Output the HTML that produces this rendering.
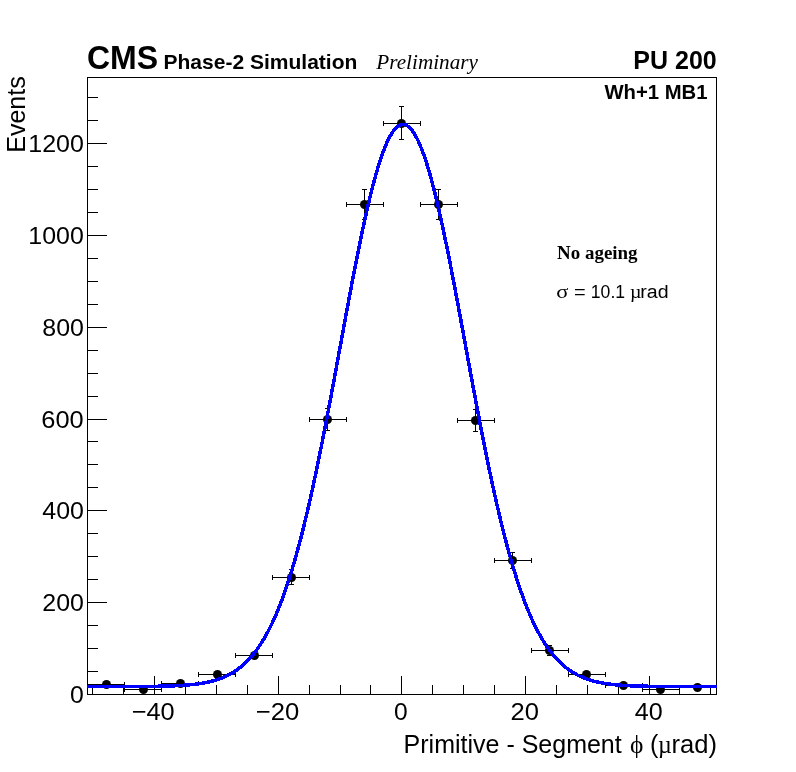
<!DOCTYPE html>
<html><head><meta charset="utf-8"><style>
html,body{margin:0;padding:0;background:#fff;}
body{width:796px;height:772px;position:relative;overflow:hidden;font-family:"Liberation Sans",sans-serif;}
svg{position:absolute;left:0;top:0;}
.t{position:absolute;white-space:nowrap;line-height:1;color:#000;}
</style></head><body>
<svg width="796" height="772" viewBox="0 0 796 772">
<rect x="87.5" y="77.5" width="629" height="617" fill="none" stroke="#000" stroke-width="1"/>
<path d="M87 694.5h20 M87 671.5h11 M87 648.5h11 M87 625.5h11 M87 602.5h20 M87 579.5h11 M87 556.5h11 M87 533.5h11 M87 510.5h20 M87 487.5h11 M87 464.5h11 M87 441.5h11 M87 419.5h20 M87 396.5h11 M87 373.5h11 M87 350.5h11 M87 327.5h20 M87 304.5h11 M87 281.5h11 M87 258.5h11 M87 235.5h20 M87 212.5h11 M87 189.5h11 M87 166.5h11 M87 143.5h20 M87 120.5h11 M87 97.5h11 M92.5 694v-9 M123.5 694v-9 M154.5 694v-18 M185.5 694v-9 M216.5 694v-9 M247.5 694v-9 M278.5 694v-18 M309.5 694v-9 M340.5 694v-9 M370.5 694v-9 M401.5 694v-18 M432.5 694v-9 M463.5 694v-9 M494.5 694v-9 M525.5 694v-18 M556.5 694v-9 M587.5 694v-9 M618.5 694v-9 M649.5 694v-18 M679.5 694v-9 M710.5 694v-9" stroke="#000" stroke-width="1" fill="none" shape-rendering="crispEdges"/>
<path d="M87 684.5H125 M87.5 682V687 M124.5 682V687 M124 689.5H162 M124.5 687V692 M161.5 687V692 M161 683.5H199 M161.5 681V686 M198.5 681V686 M198 674.5H236 M198.5 672V677 M235.5 672V677 M235 655.5H273 M235.5 653V658 M272.5 653V658 M272 577.5H310 M272.5 575V580 M309.5 575V580 M291.5 569V573.5 M291.5 581.5V585 M289.0 569.5h5 M289.0 584.5h5 M309 419.5H347 M309.5 417V422 M346.5 417V422 M327.5 408V415.5 M327.5 423.5V431 M325.0 408.5h5 M325.0 430.5h5 M346 204.5H384 M346.5 202V207 M383.5 202V207 M364.5 189V200.5 M364.5 208.5V220 M362.0 189.5h5 M362.0 219.5h5 M383 123.5H421 M383.5 121V126 M420.5 121V126 M401.5 106V119.5 M401.5 127.5V140 M399.0 106.5h5 M399.0 139.5h5 M420 204.5H458 M420.5 202V207 M457.5 202V207 M438.5 189V200.5 M438.5 208.5V220 M436.0 189.5h5 M436.0 219.5h5 M457 420.5H495 M457.5 418V423 M494.5 418V423 M475.5 409V416.5 M475.5 424.5V432 M473.0 409.5h5 M473.0 431.5h5 M494 560.5H532 M494.5 558V563 M531.5 558V563 M512.5 552V556.5 M512.5 564.5V569 M510.0 552.5h5 M510.0 568.5h5 M531 650.5H569 M531.5 648V653 M568.5 648V653 M549.5 645V646.5 M549.5 654.5V656 M547.0 645.5h5 M547.0 655.5h5 M568 674.5H606 M568.5 672V677 M605.5 672V677 M605 685.5H643 M605.5 683V688 M642.5 683V688 M642 689.5H680 M642.5 687V692 M679.5 687V692 M679 687.5H717 M679.5 685V690 M716.5 685V690" stroke="#000" stroke-width="1" fill="none" shape-rendering="crispEdges"/>
<circle cx="106.5" cy="684.5" r="4.5" fill="#000"/>
<circle cx="143.5" cy="689.5" r="4.5" fill="#000"/>
<circle cx="180.5" cy="683.5" r="4.5" fill="#000"/>
<circle cx="217.5" cy="674.5" r="4.5" fill="#000"/>
<circle cx="254.5" cy="655.5" r="4.5" fill="#000"/>
<circle cx="291.5" cy="577.5" r="4.5" fill="#000"/>
<circle cx="327.5" cy="419.5" r="4.5" fill="#000"/>
<circle cx="364.5" cy="204.5" r="4.5" fill="#000"/>
<circle cx="401.5" cy="123.5" r="4.5" fill="#000"/>
<circle cx="438.5" cy="204.5" r="4.5" fill="#000"/>
<circle cx="475.5" cy="420.5" r="4.5" fill="#000"/>
<circle cx="512.5" cy="560.5" r="4.5" fill="#000"/>
<circle cx="549.5" cy="650.5" r="4.5" fill="#000"/>
<circle cx="586.5" cy="674.5" r="4.5" fill="#000"/>
<circle cx="623.5" cy="685.5" r="4.5" fill="#000"/>
<circle cx="660.5" cy="689.5" r="4.5" fill="#000"/>
<circle cx="697.5" cy="687.5" r="4.5" fill="#000"/>
<polyline points="87.00,686.51 88.05,686.51 89.10,686.51 90.14,686.51 91.19,686.51 92.24,686.51 93.29,686.51 94.34,686.51 95.39,686.51 96.44,686.51 97.48,686.51 98.53,686.51 99.58,686.51 100.63,686.51 101.68,686.51 102.72,686.51 103.77,686.51 104.82,686.51 105.87,686.51 106.92,686.51 107.97,686.51 109.02,686.51 110.06,686.51 111.11,686.50 112.16,686.50 113.21,686.50 114.26,686.50 115.31,686.50 116.35,686.50 117.40,686.50 118.45,686.50 119.50,686.50 120.55,686.49 121.59,686.49 122.64,686.49 123.69,686.49 124.74,686.49 125.79,686.48 126.84,686.48 127.89,686.48 128.93,686.48 129.98,686.47 131.03,686.47 132.08,686.47 133.13,686.46 134.18,686.46 135.22,686.46 136.27,686.45 137.32,686.45 138.37,686.44 139.42,686.44 140.47,686.43 141.51,686.42 142.56,686.42 143.61,686.41 144.66,686.40 145.71,686.39 146.75,686.39 147.80,686.38 148.85,686.37 149.90,686.36 150.95,686.35 152.00,686.33 153.05,686.32 154.09,686.31 155.14,686.29 156.19,686.28 157.24,686.26 158.29,686.25 159.34,686.23 160.38,686.21 161.43,686.19 162.48,686.17 163.53,686.14 164.58,686.12 165.62,686.09 166.67,686.06 167.72,686.03 168.77,686.00 169.82,685.97 170.87,685.93 171.91,685.90 172.96,685.86 174.01,685.82 175.06,685.77 176.11,685.73 177.16,685.68 178.20,685.62 179.25,685.57 180.30,685.51 181.35,685.45 182.40,685.38 183.45,685.32 184.50,685.24 185.54,685.17 186.59,685.09 187.64,685.00 188.69,684.91 189.74,684.82 190.78,684.72 191.83,684.61 192.88,684.50 193.93,684.39 194.98,684.26 196.03,684.14 197.08,684.00 198.12,683.86 199.17,683.71 200.22,683.55 201.27,683.39 202.32,683.21 203.37,683.03 204.41,682.84 205.46,682.64 206.51,682.43 207.56,682.21 208.61,681.98 209.66,681.74 210.70,681.49 211.75,681.22 212.80,680.95 213.85,680.66 214.90,680.35 215.94,680.04 216.99,679.71 218.04,679.36 219.09,679.00 220.14,678.62 221.19,678.23 222.23,677.81 223.28,677.38 224.33,676.93 225.38,676.47 226.43,675.98 227.48,675.47 228.53,674.94 229.57,674.39 230.62,673.82 231.67,673.22 232.72,672.60 233.77,671.95 234.81,671.28 235.86,670.58 236.91,669.85 237.96,669.10 239.01,668.32 240.06,667.50 241.10,666.66 242.15,665.78 243.20,664.87 244.25,663.93 245.30,662.96 246.35,661.94 247.40,660.90 248.44,659.81 249.49,658.69 250.54,657.52 251.59,656.32 252.64,655.08 253.69,653.79 254.73,652.46 255.78,651.09 256.83,649.67 257.88,648.21 258.93,646.70 259.98,645.14 261.02,643.53 262.07,641.88 263.12,640.17 264.17,638.41 265.22,636.59 266.26,634.73 267.31,632.81 268.36,630.83 269.41,628.79 270.46,626.70 271.51,624.55 272.56,622.34 273.60,620.07 274.65,617.74 275.70,615.35 276.75,612.90 277.80,610.38 278.85,607.80 279.89,605.15 280.94,602.44 281.99,599.66 283.04,596.82 284.09,593.90 285.13,590.92 286.18,587.88 287.23,584.76 288.28,581.58 289.33,578.32 290.38,575.00 291.42,571.60 292.47,568.14 293.52,564.60 294.57,561.00 295.62,557.32 296.67,553.58 297.72,549.76 298.76,545.88 299.81,541.92 300.86,537.89 301.91,533.80 302.96,529.64 304.00,525.40 305.05,521.11 306.10,516.74 307.15,512.31 308.20,507.81 309.25,503.24 310.29,498.62 311.34,493.93 312.39,489.18 313.44,484.36 314.49,479.49 315.54,474.56 316.58,469.58 317.63,464.54 318.68,459.44 319.73,454.30 320.78,449.10 321.83,443.86 322.88,438.57 323.92,433.23 324.97,427.86 326.02,422.44 327.07,416.98 328.12,411.49 329.17,405.97 330.21,400.42 331.26,394.84 332.31,389.23 333.36,383.60 334.41,377.95 335.46,372.28 336.50,366.60 337.55,360.90 338.60,355.20 339.65,349.50 340.70,343.79 341.75,338.08 342.79,332.37 343.84,326.68 344.89,320.99 345.94,315.32 346.99,309.67 348.04,304.04 349.08,298.43 350.13,292.85 351.18,287.30 352.23,281.79 353.28,276.32 354.32,270.89 355.37,265.50 356.42,260.17 357.47,254.89 358.52,249.66 359.57,244.50 360.62,239.40 361.66,234.37 362.71,229.41 363.76,224.53 364.81,219.73 365.86,215.00 366.91,210.37 367.95,205.82 369.00,201.37 370.05,197.01 371.10,192.75 372.15,188.59 373.19,184.54 374.24,180.60 375.29,176.77 376.34,173.06 377.39,169.46 378.44,165.98 379.49,162.63 380.53,159.41 381.58,156.31 382.63,153.34 383.68,150.51 384.73,147.82 385.78,145.26 386.82,142.84 387.87,140.57 388.92,138.44 389.97,136.45 391.02,134.62 392.06,132.93 393.11,131.39 394.16,130.01 395.21,128.78 396.26,127.70 397.31,126.77 398.36,126.01 399.40,125.40 400.45,124.94 401.50,124.65 402.55,124.51 403.60,124.53 404.64,124.70 405.69,125.04 406.74,125.53 407.79,126.17 408.84,126.98 409.89,127.94 410.94,129.05 411.98,130.32 413.03,131.74 414.08,133.31 415.13,135.04 416.18,136.91 417.22,138.93 418.27,141.09 419.32,143.40 420.37,145.85 421.42,148.44 422.47,151.17 423.51,154.03 424.56,157.03 425.61,160.15 426.66,163.41 427.71,166.79 428.76,170.29 429.81,173.92 430.85,177.66 431.90,181.52 432.95,185.48 434.00,189.56 435.05,193.74 436.10,198.02 437.14,202.41 438.19,206.88 439.24,211.45 440.29,216.11 441.34,220.85 442.39,225.67 443.43,230.57 444.48,235.55 445.53,240.60 446.58,245.71 447.63,250.89 448.68,256.13 449.72,261.42 450.77,266.77 451.82,272.16 452.87,277.60 453.92,283.08 454.96,288.60 456.01,294.16 457.06,299.75 458.11,305.36 459.16,311.00 460.21,316.65 461.25,322.33 462.30,328.02 463.35,333.72 464.40,339.42 465.45,345.13 466.50,350.84 467.55,356.54 468.59,362.24 469.64,367.94 470.69,373.61 471.74,379.28 472.79,384.92 473.83,390.55 474.88,396.15 475.93,401.73 476.98,407.27 478.03,412.79 479.08,418.27 480.12,423.72 481.17,429.12 482.22,434.49 483.27,439.82 484.32,445.10 485.37,450.33 486.41,455.51 487.46,460.65 488.51,465.73 489.56,470.76 490.61,475.73 491.66,480.64 492.71,485.50 493.75,490.30 494.80,495.04 495.85,499.71 496.90,504.32 497.95,508.87 499.00,513.36 500.04,517.77 501.09,522.12 502.14,526.41 503.19,530.62 504.24,534.77 505.29,538.85 506.33,542.86 507.38,546.80 508.43,550.67 509.48,554.46 510.53,558.19 511.57,561.85 512.62,565.44 513.67,568.96 514.72,572.41 515.77,575.78 516.82,579.09 517.87,582.33 518.91,585.50 519.96,588.60 521.01,591.63 522.06,594.60 523.11,597.49 524.15,600.32 525.20,603.08 526.25,605.78 527.30,608.41 528.35,610.98 529.40,613.48 530.44,615.92 531.49,618.30 532.54,620.61 533.59,622.87 534.64,625.06 535.69,627.20 536.74,629.28 537.78,631.30 538.83,633.26 539.88,635.17 540.93,637.03 541.98,638.83 543.03,640.57 544.07,642.27 545.12,643.92 546.17,645.51 547.22,647.06 548.27,648.56 549.32,650.01 550.36,651.42 551.41,652.78 552.46,654.10 553.51,655.37 554.56,656.61 555.61,657.80 556.65,658.95 557.70,660.07 558.75,661.15 559.80,662.18 560.85,663.19 561.89,664.16 562.94,665.09 563.99,665.99 565.04,666.86 566.09,667.70 567.14,668.50 568.18,669.28 569.23,670.03 570.28,670.75 571.33,671.44 572.38,672.11 573.43,672.75 574.47,673.36 575.52,673.95 576.57,674.52 577.62,675.07 578.67,675.59 579.72,676.10 580.76,676.58 581.81,677.04 582.86,677.49 583.91,677.91 584.96,678.32 586.01,678.71 587.06,679.08 588.10,679.44 589.15,679.79 590.20,680.11 591.25,680.43 592.30,680.73 593.35,681.01 594.39,681.29 595.44,681.55 596.49,681.80 597.54,682.04 598.59,682.27 599.63,682.48 600.68,682.69 601.73,682.89 602.78,683.08 603.83,683.26 604.88,683.43 605.93,683.59 606.97,683.75 608.02,683.89 609.07,684.03 610.12,684.17 611.17,684.29 612.22,684.41 613.26,684.53 614.31,684.64 615.36,684.74 616.41,684.84 617.46,684.93 618.50,685.02 619.55,685.11 620.60,685.19 621.65,685.26 622.70,685.33 623.75,685.40 624.79,685.46 625.84,685.52 626.89,685.58 627.94,685.64 628.99,685.69 630.04,685.74 631.09,685.78 632.13,685.83 633.18,685.87 634.23,685.91 635.28,685.94 636.33,685.98 637.38,686.01 638.42,686.04 639.47,686.07 640.52,686.10 641.57,686.12 642.62,686.15 643.66,686.17 644.71,686.19 645.76,686.21 646.81,686.23 647.86,686.25 648.91,686.27 649.96,686.28 651.00,686.30 652.05,686.31 653.10,686.32 654.15,686.34 655.20,686.35 656.25,686.36 657.29,686.37 658.34,686.38 659.39,686.39 660.44,686.40 661.49,686.40 662.53,686.41 663.58,686.42 664.63,686.43 665.68,686.43 666.73,686.44 667.78,686.44 668.82,686.45 669.87,686.45 670.92,686.46 671.97,686.46 673.02,686.46 674.07,686.47 675.12,686.47 676.16,686.47 677.21,686.48 678.26,686.48 679.31,686.48 680.36,686.49 681.40,686.49 682.45,686.49 683.50,686.49 684.55,686.49 685.60,686.49 686.65,686.50 687.70,686.50 688.74,686.50 689.79,686.50 690.84,686.50 691.89,686.50 692.94,686.50 693.99,686.50 695.03,686.51 696.08,686.51 697.13,686.51 698.18,686.51 699.23,686.51 700.27,686.51 701.32,686.51 702.37,686.51 703.42,686.51 704.47,686.51 705.52,686.51 706.56,686.51 707.61,686.51 708.66,686.51 709.71,686.51 710.76,686.51 711.81,686.51 712.86,686.51 713.90,686.51 714.95,686.51 716.00,686.51 717.00,686.51" fill="none" stroke="#0000ff" stroke-width="3.5" shape-rendering="crispEdges"/>
</svg>
<svg width="796" height="772" viewBox="0 0 796 772" style="position:absolute;left:0;top:0;will-change:transform">
<text x="86.97" y="69.00" font-family="Liberation Sans" font-size="32.5" font-weight="bold" textLength="71.15" lengthAdjust="spacingAndGlyphs">CMS</text>
<text x="163.47" y="68.70" font-family="Liberation Sans" font-size="20.6" font-weight="bold" textLength="193.89" lengthAdjust="spacingAndGlyphs">Phase-2 Simulation</text>
<text x="376.30" y="68.80" font-family="Liberation Serif" font-size="20.2" font-style="italic" textLength="101.67" lengthAdjust="spacingAndGlyphs">Preliminary</text>
<text x="633.30" y="68.80" font-family="Liberation Sans" font-size="25" font-weight="bold">PU 200</text>
<text x="604.40" y="99.05" font-family="Liberation Sans" font-size="20.3" font-weight="bold">Wh+1 MB1</text>
<text x="557.05" y="258.75" font-family="Liberation Serif" font-size="18.7" font-weight="bold" textLength="80.53" lengthAdjust="spacingAndGlyphs">No ageing</text>
<text x="556.21" y="297.80" font-family="Liberation Serif" font-size="19" textLength="12.19" lengthAdjust="spacingAndGlyphs">σ</text>
<text x="574.06" y="297.90" font-family="Liberation Sans" font-size="19.25" textLength="11.68" lengthAdjust="spacingAndGlyphs">=</text>
<text x="590.83" y="297.90" font-family="Liberation Sans" font-size="19.25" textLength="34.26" lengthAdjust="spacingAndGlyphs">10.1</text>
<text x="630.08" y="297.80" font-family="Liberation Serif" font-size="19" textLength="11.46" lengthAdjust="spacingAndGlyphs">µ</text>
<text x="640.23" y="297.80" font-family="Liberation Sans" font-size="19.25" textLength="28.32" lengthAdjust="spacingAndGlyphs">rad</text>
<text x="28.28" y="151.90" font-family="Liberation Sans" font-size="24" textLength="55.65" lengthAdjust="spacingAndGlyphs">1200</text>
<text x="28.30" y="243.90" font-family="Liberation Sans" font-size="24" textLength="55.53" lengthAdjust="spacingAndGlyphs">1000</text>
<text x="42.34" y="335.90" font-family="Liberation Sans" font-size="24" textLength="41.65" lengthAdjust="spacingAndGlyphs">800</text>
<text x="41.33" y="427.90" font-family="Liberation Sans" font-size="24" textLength="42.43" lengthAdjust="spacingAndGlyphs">600</text>
<text x="42.34" y="518.90" font-family="Liberation Sans" font-size="24" textLength="41.65" lengthAdjust="spacingAndGlyphs">400</text>
<text x="42.34" y="610.90" font-family="Liberation Sans" font-size="24" textLength="41.65" lengthAdjust="spacingAndGlyphs">200</text>
<text x="70.07" y="702.90" font-family="Liberation Sans" font-size="24" textLength="13.82" lengthAdjust="spacingAndGlyphs">0</text>
<text x="131.71" y="719.50" font-family="Liberation Sans" font-size="24.5" textLength="42.99" lengthAdjust="spacingAndGlyphs">−40</text>
<text x="255.79" y="719.50" font-family="Liberation Sans" font-size="24.5" textLength="43.52" lengthAdjust="spacingAndGlyphs">−20</text>
<text x="394.00" y="719.50" font-family="Liberation Sans" font-size="24.5" textLength="13.70" lengthAdjust="spacingAndGlyphs">0</text>
<text x="510.59" y="719.50" font-family="Liberation Sans" font-size="24.5" textLength="28.47" lengthAdjust="spacingAndGlyphs">20</text>
<text x="634.89" y="719.50" font-family="Liberation Sans" font-size="24.5" textLength="27.95" lengthAdjust="spacingAndGlyphs">40</text>
<text x="403.60" y="752.50" font-family="Liberation Sans" font-size="25">Primitive - Segment</text>
<text x="629.94" y="752.50" font-family="Liberation Serif" font-size="25" textLength="13.40" lengthAdjust="spacingAndGlyphs">ϕ</text>
<text x="649.90" y="752.50" font-family="Liberation Sans" font-size="25">(</text>
<text x="657.98" y="752.50" font-family="Liberation Serif" font-size="25" textLength="13.78" lengthAdjust="spacingAndGlyphs">µ</text>
<text x="671.51" y="752.50" font-family="Liberation Sans" font-size="25" textLength="45.49" lengthAdjust="spacingAndGlyphs">rad)</text>
<text transform="translate(24.85,152.8) rotate(-90)" x="0" y="0" font-family="Liberation Sans" font-size="26.6" textLength="76.6" lengthAdjust="spacingAndGlyphs">Events</text>
</svg>
</body></html>
